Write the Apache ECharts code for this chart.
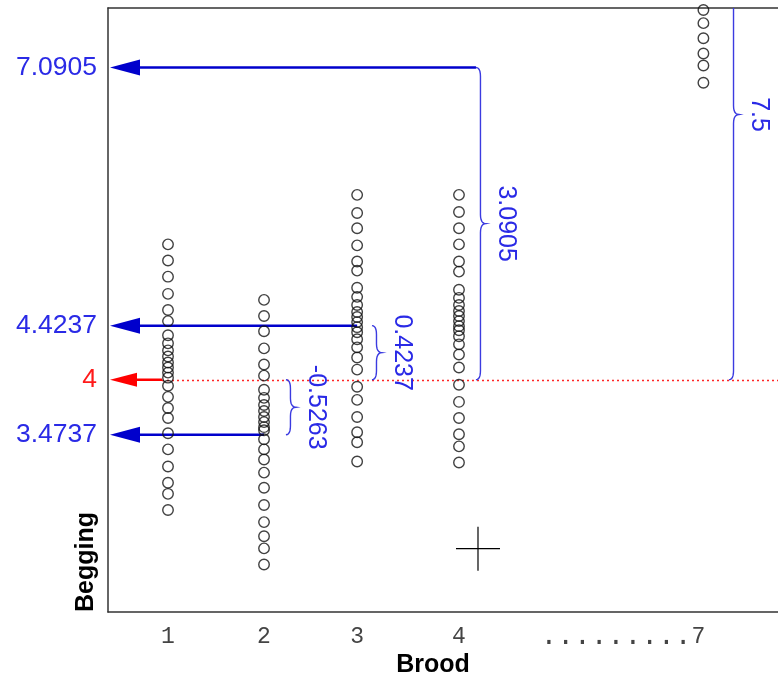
<!DOCTYPE html>
<html><head><meta charset="utf-8">
<script src="https://cdn.jsdelivr.net/npm/echarts@6/dist/echarts.min.js"></script>
<style>html,body{margin:0;padding:0;background:#fff}#c{width:778px;height:676px}</style>
</head><body><div id="c"></div>
<script>
// ---- data ----
const broodLabels = ['1', '2', '3', '4', '7'];
const brokenGap = '.........';
const broodSlot = [1, 1.99, 2.95, 4, 6.52];      // place of each brood on the broken axis
const begging1 = [5.34,5.18,5.02,4.85,4.69,4.58,4.44,4.36,4.29,4.23,4.17,4.12,4.07,4.02,3.94,3.83,3.72,3.62,3.47,3.31,3.14,2.98,2.87,2.71];
const begging2 = [4.79,4.63,4.48,4.31,4.15,4.04,3.90,3.82,3.75,3.69,3.63,3.58,3.53,3.50,3.41,3.31,3.21,3.08,2.93,2.76,2.59,2.45,2.33,2.17];
const begging3 = [5.83,5.65,5.50,5.33,5.17,5.08,4.91,4.82,4.74,4.67,4.62,4.57,4.52,4.47,4.40,4.32,4.22,4.10,3.93,3.80,3.63,3.48,3.38,3.19];
const begging4 = [5.83,5.66,5.50,5.34,5.17,5.07,4.89,4.81,4.74,4.68,4.63,4.58,4.53,4.49,4.43,4.35,4.25,4.12,3.95,3.78,3.62,3.46,3.34,3.18];
const begging7 = [7.66,7.53,7.38,7.23,7.11,6.94];
const baselineLabel = '4';
const baseline = 4;
const arrowLabels = ['7.0905', '4.4237', '3.4737'];
const arrowLevels = [7.0905, 4.535, 3.455];      // drawn levels
const arrowFromSlot = [4.175, 2.95, 1.99];
const braceLabels = ['3.0905', '0.4237', '-0.5263', '7.5'];
const braceSlot = [4.175, 3.103, 2.216, 6.784];
const braceEnd = [7.0905, 4.535, 3.455, 9.25];
const crossMark = [4.196, 2.327];
const xMin = 0.3814, xMax = 7.289, yMin = 1.7, yMax = 7.68;

// ---- build ----
const groups = [begging1, begging2, begging3, begging4, begging7];
const points = [];
groups.forEach((g, i) => g.forEach(v => points.push([broodSlot[i], v])));

const BLUE = '#0000cc', BLUE_T = '#2a2ae6', BRACE = '#3b3be0', RED = '#ff0000';
const SANS = '"Liberation Sans", Arial, sans-serif';
const MONO = '"Liberation Mono", monospace';

function quad(p0, p1, p2, n, out) {
  for (let i = 1; i <= n; i++) {
    const t = i / n, a = (1 - t) * (1 - t), b = 2 * (1 - t) * t, c = t * t;
    out.push([a * p0[0] + b * p1[0] + c * p2[0], a * p0[1] + b * p1[1] + c * p2[1]]);
  }
}
function bracePts(x, ya, yb, w) {
  const y1 = Math.min(ya, yb), y2 = Math.max(ya, yb);
  const sx = x + w * 0.45, tx = x + w, ym = (y1 + y2) / 2, r = Math.min(9, (y2 - y1) / 4);
  const pts = [[x, y1]];
  quad([x, y1], [sx, y1], [sx, y1 + r], 6, pts);
  pts.push([sx, ym - r]);
  quad([sx, ym - r], [sx, ym], [tx, ym], 6, pts);
  quad([tx, ym], [sx, ym], [sx, ym + r], 6, pts);
  pts.push([sx, y2 - r]);
  quad([sx, y2 - r], [sx, y2], [x, y2], 6, pts);
  return {pts, tip: [tx, ym]};
}

const frameLine = {show: true, lineStyle: {color: '#333', width: 1.5}};
const chart = echarts.init(document.getElementById('c'), null, {renderer: 'canvas'});
chart.setOption({
  animation: false,
  backgroundColor: '#fff',
  grid: {left: 108, top: 8, right: 0, bottom: 64},
  xAxis: [
    {type: 'value', position: 'bottom', min: xMin, max: xMax, axisLine: frameLine, axisTick: {show: false}, axisLabel: {show: false}, splitLine: {show: false}},
    {type: 'value', position: 'top', min: xMin, max: xMax, axisLine: frameLine, axisTick: {show: false}, axisLabel: {show: false}, splitLine: {show: false}}
  ],
  yAxis: {type: 'value', min: yMin, max: yMax, axisLine: frameLine, axisTick: {show: false}, axisLabel: {show: false}, splitLine: {show: false}},
  graphic: [
    {type: 'text', x: 86, y: 612, rotation: Math.PI / 2, style: {text: 'Begging', font: 'bold 25px ' + SANS, fill: '#000', align: 'left', verticalAlign: 'middle'}},
    {type: 'text', x: 433, y: 665, style: {text: 'Brood', font: 'bold 25px ' + SANS, fill: '#000', align: 'center', verticalAlign: 'middle'}}
  ],
  series: [
    { // baseline (red)
      type: 'custom', clip: true, z: 2,
      data: [[broodSlot[0], baseline]],
      renderItem(params, api) {
        const p = api.coord([api.value(0), api.value(1)]);
        const cs = params.coordSys, tip = cs.x + 2, y = p[1], yc = Math.round(y) + 0.5;
        return {type: 'group', children: [
          {type: 'line', shape: {x1: p[0] - 6, y1: yc, x2: cs.x + cs.width, y2: yc}, style: {stroke: RED, lineWidth: 1.4, lineDash: [2, 3], opacity: 0.85}},
          {type: 'line', shape: {x1: tip + 20, y1: y, x2: p[0] - 6, y2: y}, style: {stroke: RED, lineWidth: 2.5}},
          {type: 'polygon', shape: {points: [[tip, y], [tip + 27, y - 7], [tip + 27, y + 7]]}, style: {fill: RED}}
        ]};
      }
    },
    { // blue arrows
      type: 'custom', clip: true, z: 3,
      data: arrowLevels.map((v, i) => [arrowFromSlot[i], v]),
      renderItem(params, api) {
        const p = api.coord([api.value(0), api.value(1)]);
        const cs = params.coordSys, tip = cs.x + 2, y = p[1];
        return {type: 'group', children: [
          {type: 'line', shape: {x1: tip + 20, y1: y, x2: p[0], y2: y}, style: {stroke: BLUE, lineWidth: 2.5}},
          {type: 'polygon', shape: {points: [[tip, y], [tip + 30, y - 8], [tip + 30, y + 8]]}, style: {fill: BLUE}}
        ]};
      }
    },
    { // braces
      type: 'custom', clip: true, z: 3,
      data: braceEnd.map((v, i) => [braceSlot[i], v, baseline]),
      renderItem(params, api) {
        const a = api.coord([api.value(0), api.value(1)]);
        const b = api.coord([api.value(0), api.value(2)]);
        const br = bracePts(a[0], a[1], b[1], 10);
        return {type: 'group', children: [
          {type: 'polyline', shape: {points: br.pts}, style: {stroke: BRACE, lineWidth: 1.4, fill: null}},
          {type: 'text', x: br.tip[0] + 20, y: br.tip[1], rotation: -Math.PI / 2,
           style: {text: braceLabels[params.dataIndex], font: '25px ' + SANS, fill: BLUE_T, align: 'center', verticalAlign: 'middle'}}
        ]};
      }
    },
    { // left value labels
      type: 'custom', clip: false, z: 3,
      data: [[xMin, baseline]].concat(arrowLevels.map(v => [xMin, v])),
      renderItem(params, api) {
        const p = api.coord([api.value(0), api.value(1)]);
        const i = params.dataIndex;
        return {type: 'text', x: p[0] - 11, y: p[1],
          style: {text: i === 0 ? baselineLabel : arrowLabels[i - 1], font: '26.5px ' + SANS, fill: i === 0 ? '#ff1a1a' : BLUE_T, align: 'right', verticalAlign: 'middle'}};
      }
    },
    { // x tick labels
      type: 'custom', clip: false, z: 3,
      data: broodSlot.map(s => [s, yMin]),
      renderItem(params, api) {
        const p = api.coord([api.value(0), api.value(1)]);
        const last = params.dataIndex === broodSlot.length - 1;
        const lab = broodLabels[params.dataIndex];
        return {type: 'text', x: last ? p[0] + 2 : p[0], y: p[1] + 25,
          style: last ? {
            text: '{d|' + brokenGap + '}{n|' + lab + '}', align: 'right', verticalAlign: 'middle',
            rich: {d: {font: '28px ' + MONO, fill: '#444'}, n: {font: '23px ' + MONO, fill: '#444'}}
          } : {text: lab, font: '23px ' + MONO, fill: '#444', align: 'center', verticalAlign: 'middle'}};
      }
    },
    { // cross mark
      type: 'custom', clip: true, z: 3,
      data: [crossMark],
      renderItem(params, api) {
        const p = api.coord([api.value(0), api.value(1)]);
        return {type: 'group', children: [
          {type: 'line', shape: {x1: p[0] - 22, y1: p[1], x2: p[0] + 22, y2: p[1]}, style: {stroke: '#000', lineWidth: 1.2}},
          {type: 'line', shape: {x1: p[0], y1: p[1] - 22, x2: p[0], y2: p[1] + 22}, style: {stroke: '#000', lineWidth: 1.2}}
        ]};
      }
    },
    { // observations
      type: 'scatter', clip: true, z: 4,
      data: points,
      symbol: 'circle', symbolSize: 10.5,
      itemStyle: {color: 'rgba(0,0,0,0)', borderColor: '#111', borderWidth: 1.4}
    }
  ]
});
</script></body></html>
